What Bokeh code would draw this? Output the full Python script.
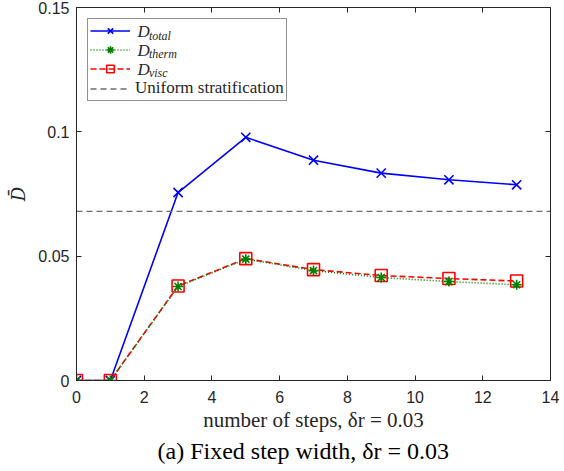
from bokeh.plotting import figure
from bokeh.models import (LinearAxis, FixedTicker, CustomJSTickFormatter, Legend,
                          LegendItem, Label, Title, Range1d)
from bokeh.embed import file_html
from bokeh.resources import INLINE

# ---- data -------------------------------------------------------------
steps = [0, 1, 3, 5, 7, 9, 11, 13]
d_total = [0.0, 0.0, 0.0756, 0.0978, 0.0886, 0.0834, 0.0807, 0.0787]
d_therm = [0.0, 0.0, 0.0378, 0.0488, 0.0442, 0.0414, 0.0398, 0.0385]
d_visc = [0.0, 0.0, 0.0380, 0.0490, 0.0446, 0.0422, 0.0410, 0.0400]
d_uniform = 0.068

x_ticks = [0, 2, 4, 6, 8, 10, 12, 14]
y_ticks = [0, 0.05, 0.1, 0.15]
x_lim = (0, 14)
y_lim = (0, 0.15)

AX = "#262626"
SANS = "Liberation Sans"
SERIF = "Liberation Serif"

p = figure(width=564, height=471, output_backend="svg", toolbar_location=None,
           x_range=Range1d(*x_lim), y_range=Range1d(*y_lim),
           min_border_left=76, min_border_right=14, min_border_top=7,
           min_border_bottom=91, background_fill_color="white",
           border_fill_color="white", outline_line_color=AX)
p.xgrid.visible = False
p.ygrid.visible = False

fmt = CustomJSTickFormatter(code="return String(Math.round(tick*1000)/1000);")

def style_axis(ax, ticks):
    ax.ticker = FixedTicker(ticks=ticks)
    ax.formatter = fmt
    ax.axis_line_color = AX
    ax.major_tick_line_color = AX
    ax.major_tick_in = 5
    ax.major_tick_out = 0
    ax.minor_tick_line_color = None
    ax.major_label_text_color = AX
    ax.major_label_text_font = SANS
    ax.major_label_text_font_size = "16px"

style_axis(p.xaxis[0], x_ticks)
style_axis(p.yaxis[0], y_ticks)
p.xaxis[0].major_label_standoff = 10
p.yaxis[0].major_label_standoff = 7

p.xaxis[0].axis_label = "number of steps, δr = 0.03"
p.xaxis[0].axis_label_text_font = SERIF
p.xaxis[0].axis_label_text_font_style = "normal"
p.xaxis[0].axis_label_text_font_size = "21px"
p.xaxis[0].axis_label_text_color = AX
p.xaxis[0].axis_label_standoff = 2

p.yaxis[0].axis_label = "D\u0304"
p.yaxis[0].axis_label_text_font = "DejaVu Serif"
p.yaxis[0].axis_label_text_font_style = "italic"
p.yaxis[0].axis_label_text_font_size = "18px"
p.yaxis[0].axis_label_text_color = AX
p.yaxis[0].axis_label_standoff = 6


# box axes on top and right: tick marks only, no labels
def tick_only_axis(ticks):
    ax = LinearAxis(ticker=FixedTicker(ticks=[], minor_ticks=ticks))
    ax.axis_line_color = AX
    ax.major_tick_line_color = None
    ax.minor_tick_line_color = AX
    ax.minor_tick_in = 5
    ax.minor_tick_out = 0
    ax.major_label_standoff = 0
    return ax

p.add_layout(tick_only_axis(x_ticks), "above")
p.add_layout(tick_only_axis(y_ticks), "right")

# ---- series -----------------------------------------------------------
BLUE, GREEN, RED, GREY = "#0000ff", "#008000", "#ff0000", "#6e6e6e"

l_tot = p.line(steps, d_total, line_color=BLUE, line_width=1.6)
m_tot = p.scatter(steps, d_total, marker="x", size=13, line_color=BLUE, line_width=1.6)

l_vis = p.line(steps, d_visc, line_color=RED, line_width=1.6, line_dash="6 3")
m_vis = p.scatter(steps, d_visc, marker="square", size=12, line_color=RED,
                  fill_color=None, line_width=1.6)

l_the = p.line(steps, d_therm, line_color=GREEN, line_width=1.6, line_dash="1 2")
m_the = p.scatter(steps, d_therm, marker="asterisk", size=10, line_color=GREEN,
                  line_width=1.6)

l_uni = p.line(list(x_lim), [d_uniform, d_uniform], line_color=GREY,
               line_width=1.4, line_dash="6 4")

# symbol names with subscripts, placed next to the legend samples
name_x, sub_x = 1.80, 2.14
name_y = [0.1403, 0.1327, 0.1251]
sub_dy = 0.0016
subs = ["total", "therm", "visc"]
for yy, sub in zip(name_y, subs):
    p.add_layout(Label(x=name_x, y=yy, text="D", level="overlay",
                       text_font=SERIF, text_font_style="italic",
                       text_font_size="17px", text_color=AX,
                       text_baseline="middle"))
    p.add_layout(Label(x=sub_x, y=yy - sub_dy, text=sub, level="overlay",
                       text_font=SERIF, text_font_style="italic",
                       text_font_size="12px", text_color=AX,
                       text_baseline="middle"))

legend = Legend(items=[
    LegendItem(label=" ", renderers=[l_tot, m_tot]),
    LegendItem(label=" ", renderers=[l_the, m_the]),
    LegendItem(label=" ", renderers=[l_vis, m_vis]),
    LegendItem(label="Uniform stratification", renderers=[l_uni]),
], location="top_left", margin=11, padding=2, spacing=0, glyph_width=40,
   glyph_height=19, label_height=19, label_standoff=5,
   label_text_font=SERIF, label_text_font_size="17px", label_text_color=AX,
   border_line_color=AX, border_line_width=1, background_fill_alpha=0.0)
p.add_layout(legend)

caption = Title(text="(a) Fixed step width, δr = 0.03", align="left",
                text_font=SERIF, text_font_style="normal", text_font_size="24px",
                text_color="black", offset=81, standoff=3)
p.add_layout(caption, "below")

open("out.html", "w").write(file_html(p, INLINE))
